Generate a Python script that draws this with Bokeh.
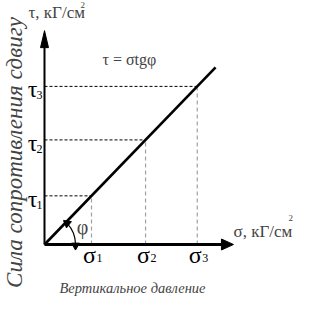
import math
from bokeh.plotting import figure
from bokeh.models import Range1d, Label, ColumnDataSource
from bokeh.core.properties import value
from bokeh.embed import file_html
from bokeh.resources import INLINE

# ---- data (schematic units) ----
sigma_vals = [1.0, 2.15, 3.25]          # σ1, σ2, σ3
tg_phi = 1.035                           # slope of τ = σ·tgφ
sigma_end = 3.64                         # end of the drawn line
sigma_labels = ["1", "2", "3"]
tau_labels = ["1", "2", "3"]
x_axis_end = 4.02
y_axis_end = 4.55

tau_vals = [s * tg_phi for s in sigma_vals]

W, H = 327, 318
PX = 47.0            # pixels per unit
OX, OY = 44, 244     # origin in screen pixels

def dx(px):
    return (px - OX) / PX

def dy(py):
    return (OY - py) / PX

FNAME = "Liberation Serif"
FONT = value(FNAME)

p = figure(width=W, height=H, output_backend="svg", toolbar_location=None,
           x_axis_type=None, y_axis_type=None, min_border=0,
           x_range=Range1d(dx(0), dx(W)), y_range=Range1d(dy(H), dy(0)))
p.grid.visible = False
p.outline_line_color = None
p.background_fill_color = "white"

# dashed guide lines
for s, t in zip(sigma_vals, tau_vals):
    p.line([0, s], [t, t], line_color="black", line_width=1, line_dash="3 2")
    p.line([s, s], [0, t], line_color="#a0a0a0", line_width=1.2, line_dash="4 3")

# main line
p.line([0, sigma_end], [0, sigma_end * tg_phi], line_color="black", line_width=2.6)

# axes
p.line([0, x_axis_end - 9 / PX], [0, 0], line_color="black", line_width=2.8)
p.line([0, 0], [0, y_axis_end - 12 / PX], line_color="black", line_width=2.0)
# arrowheads
p.patch([x_axis_end, x_axis_end - 12 / PX, x_axis_end - 12 / PX],
        [0, 5.5 / PX, -5.5 / PX], fill_color="black", line_color="black")
p.patch([0, -4 / PX, 4 / PX],
        [y_axis_end, y_axis_end - 17 / PX, y_axis_end - 17 / PX],
        fill_color="black", line_color="black")

# angle arc φ
phi = math.atan(tg_phi)
r = 31 / PX
p.arc(x=[0], y=[0], radius=r, start_angle=0.03, end_angle=phi - 0.05,
      line_color="black", line_width=1.2)
p.scatter(x=[r * math.cos(phi - 0.05), r], y=[r * math.sin(phi - 0.05), -0.02],
          marker="triangle", size=8, angle=[phi + 0.1, math.pi],
          fill_color="black", line_color="black")
p.add_layout(Label(x=dx(82), y=dy(226), text="φ", text_font=FNAME,
                   text_font_size="20px", text_baseline="middle", text_align="center"))

# tick labels σ
src_s = ColumnDataSource(dict(x=sigma_vals, y=[0] * 3, sub=sigma_labels))
p.text(x="x", y="y", text=value("σ"), source=src_s, text_font=FONT,
       text_font_size="24px", text_align="center", text_baseline="top",
       y_offset=-3, x_offset=-2)
p.text(x="x", y="y", text="sub", source=src_s, text_font=FONT,
       text_font_size="12px", text_align="left", text_baseline="top",
       y_offset=9, x_offset=5)

# tick labels τ
src_t = ColumnDataSource(dict(x=[dx(32)] * 3, y=tau_vals, sub=tau_labels))
p.text(x="x", y="y", text=value("τ"), source=src_t, text_font=FONT,
       text_font_size="24px", text_align="center", text_baseline="top",
       y_offset=-10)
p.text(x="x", y="y", text="sub", source=src_t, text_font=FONT,
       text_font_size="12px", text_align="left", text_baseline="top",
       y_offset=5, x_offset=4)

# axis titles
p.add_layout(Label(x=dx(28), y=dy(12), text="τ, кГ/см", text_font=FNAME,
                   text_font_size="17px", text_baseline="middle"))
p.add_layout(Label(x=dx(80), y=dy(1), text="2", text_font=FNAME,
                   text_font_size="9px", text_baseline="top"))
p.add_layout(Label(x=dx(233), y=dy(231), text="σ, кГ/см", text_font=FNAME,
                   text_font_size="17px", text_baseline="middle"))
p.add_layout(Label(x=dx(288), y=dy(214), text="2", text_font=FNAME,
                   text_font_size="9px", text_baseline="top"))

# formula
p.add_layout(Label(x=dx(102), y=dy(59), text="τ = σtgφ", text_font=FNAME,
                   text_font_size="16px", text_baseline="middle"))

# y title (rotated)
p.add_layout(Label(x=dx(14), y=dy(152), text="Сила сопротивления сдвигу",
                   text_font=FNAME, text_font_size="23px", text_font_style="italic",
                   angle=math.pi / 2, text_align="center", text_baseline="middle"))
# x title
p.add_layout(Label(x=dx(132), y=dy(287), text="Вертикальное давление",
                   text_font=FNAME, text_font_size="14.5px", text_font_style="italic",
                   text_align="center", text_baseline="middle"))

open("out.html", "w").write(file_html(p, INLINE))
